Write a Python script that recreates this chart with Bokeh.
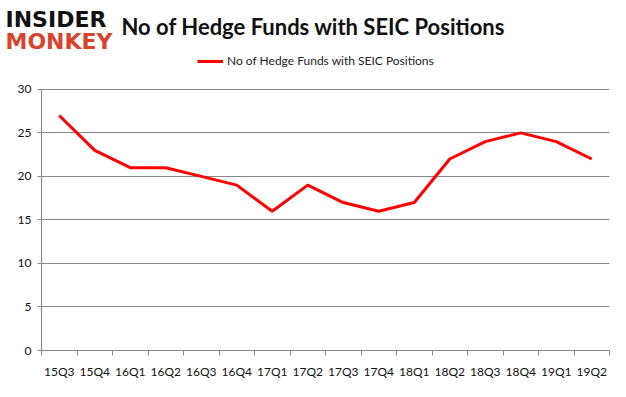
from bokeh.plotting import figure
from bokeh.models import Range1d, FixedTicker, Legend, LegendItem, Title, ColumnDataSource
from bokeh.embed import file_html
from bokeh.resources import INLINE

quarters = ["15Q3", "15Q4", "16Q1", "16Q2", "16Q3", "16Q4", "17Q1", "17Q2",
            "17Q3", "17Q4", "18Q1", "18Q2", "18Q3", "18Q4", "19Q1", "19Q2"]
funds = [27, 23, 21, 21, 20, 19, 16, 19, 17, 16, 17, 22, 24, 25, 24, 22]
y_ticks = [0, 5, 10, 15, 20, 25, 30]
series_name = "No of Hedge Funds with SEIC Positions"

xs = [i + 0.5 for i in range(len(quarters))]
src = ColumnDataSource(dict(x=xs, y=funds))

FRAME_TOP = 52
y_top = 30 * (351 - FRAME_TOP) / 262.0

p = figure(width=610, height=381, output_backend="svg", toolbar_location=None,
           x_range=Range1d(0, len(quarters)), y_range=Range1d(0, y_top),
           min_border_left=41, min_border_right=1, min_border_top=FRAME_TOP, min_border_bottom=30)
p.outline_line_color = None
p.background_fill_color = "white"

FONT = "Lato"
p.title.text = "No of Hedge Funds with SEIC Positions"
p.title.text_font = FONT
p.title.text_font_size = "22px"
p.title.text_font_style = "bold"
p.title.text_color = "#111111"
p.title.align = "left"
p.title.offset = 80
p.title.standoff = -62

p.add_layout(Title(text="MONKEY", align="left", offset=-36, standoff=-2,
                   text_font="DejaVu Sans", text_font_size="22px",
                   text_font_style="bold", text_color="#d9432b"), "above")
p.add_layout(Title(text="INSIDER", align="left", offset=-36, standoff=-8,
                   text_font="DejaVu Sans", text_font_size="22px",
                   text_font_style="bold", text_color="#111111"), "above")

r = p.line("x", "y", source=src, line_color="#ff0000", line_width=3)

# axes
p.xaxis.ticker = FixedTicker(ticks=xs, minor_ticks=list(range(len(quarters) + 1)))
p.xaxis.major_label_overrides = {x: q for x, q in zip(xs, quarters)}
p.xaxis.major_tick_out = 0
p.xaxis.major_tick_in = 0
p.xaxis.minor_tick_out = 5
p.xaxis.minor_tick_in = 0
p.xaxis.minor_tick_line_color = "#868686"
p.xaxis.axis_line_color = "#868686"
p.xaxis.major_label_standoff = 8
p.yaxis.ticker = FixedTicker(ticks=y_ticks)
p.yaxis.bounds = (0, 30)
p.yaxis.major_tick_out = 4
p.yaxis.major_tick_in = 0
p.yaxis.minor_tick_out = 0
p.yaxis.major_tick_line_color = "#868686"
p.yaxis.axis_line_color = "#868686"
p.yaxis.major_label_standoff = 6
for ax in (p.xaxis, p.yaxis):
    ax.major_label_text_font = FONT
    ax.major_label_text_font_size = "12px"
    ax.major_label_text_color = "#111111"

p.xgrid.visible = False
p.ygrid.ticker = FixedTicker(ticks=y_ticks)
p.ygrid.grid_line_color = "#868686"
p.ygrid.grid_line_width = 1

legend = Legend(items=[LegendItem(label=series_name, renderers=[r])],
                location=(156, 282), orientation="horizontal",
                border_line_color=None, background_fill_alpha=0,
                padding=0, margin=0, glyph_width=26, glyph_height=14, label_height=14,
                label_text_font=FONT, label_text_font_size="12px", label_text_color="#222222",
                label_standoff=4)
p.add_layout(legend, "center")

open("out.html", "w").write(file_html(p, INLINE))
